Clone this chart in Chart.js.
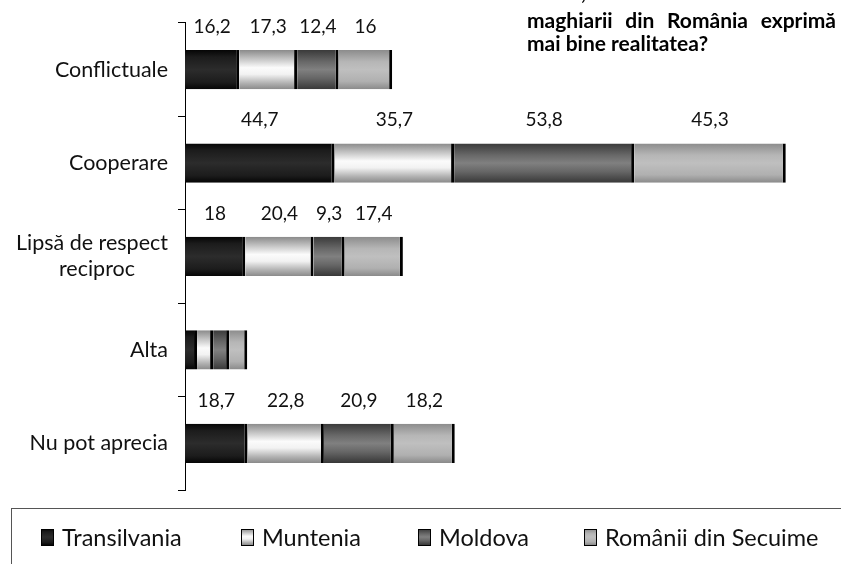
<!DOCTYPE html>
<html>
<head>
<meta charset="utf-8">
<script src="https://cdn.jsdelivr.net/npm/chart.js@4"></script>
<style>
  html, body { margin: 0; padding: 0; background: #fff; }
  #wrap { width: 841px; height: 564px; }
</style>
</head>
<body>
<div id="wrap"><canvas id="chart" width="841" height="564"></canvas></div>
<script>
// Data
const pad = '\u00A0'.repeat(6);
const categories = ['Conflictuale', 'Cooperare', ['Lipsă de respect', 'reciproc' + pad], 'Alta', 'Nu pot aprecia'];
const seriesNames = ['Transilvania', 'Muntenia', 'Moldova', 'Românii din Secuime'];
const transilvania = [16.2, 44.7, 18, 3.6, 18.7];
const muntenia = [17.3, 35.7, 20.4, 4.8, 22.8];
const moldova = [12.4, 53.8, 9.3, 4.8, 20.9];
const secuime = [16, 45.3, 17.4, 5.4, 18.2];
const titleLines = ['maghiarii din România exprimă', 'mai bine realitatea?'];

const FONT = 'Lato, "Open Sans", sans-serif';

// vertical gradient bands for each series (top -> bottom)
const gradientStops = [
    [[0, '#050505'], [0.18, '#1c1c1c'], [0.5, '#2c2c2c'], [0.82, '#1c1c1c'], [1, '#050505']],
    [[0, '#8a8a8a'], [0.2, '#bdbdbd'], [0.45, '#fbfbfb'], [0.62, '#f2f2f2'], [0.85, '#b0b0b0'], [1, '#8a8a8a']],
    [[0, '#3a3a3a'], [0.3, '#686868'], [0.5, '#808080'], [0.72, '#666666'], [1, '#383838']],
    [[0, '#8c8c8c'], [0.3, '#b6b6b6'], [0.5, '#bfbfbf'], [0.8, '#b0b0b0'], [1, '#8a8a8a']]
];
const flatColors = ['#222222', '#e6e6e6', '#6e6e6e', '#b4b4b4'];

function makeGradient(ctx, seriesIdx, top, bottom) {
    const g = ctx.createLinearGradient(0, top, 0, bottom);
    gradientStops[seriesIdx].forEach(s => g.addColorStop(s[0], s[1]));
    return g;
}

function barFill(seriesIdx) {
    return (context) => {
        const chart = context.chart;
        const yScale = chart.scales && chart.scales.y;
        if (context.type !== 'data' || !yScale || !chart.chartArea) return flatColors[seriesIdx];
        const center = yScale.getPixelForValue(context.dataIndex);
        const band = (yScale.bottom - yScale.top) / categories.length;
        const h = band * 0.42;
        if (!isFinite(center)) return flatColors[seriesIdx];
        return makeGradient(chart.ctx, seriesIdx, center - h / 2, center + h / 2);
    };
}

const seriesData = [transilvania, muntenia, moldova, secuime];

// value labels above each segment (not for the tiny "Alta" row)
const valueLabels = {
    id: 'valueLabels',
    afterDatasetsDraw(chart) {
        const ctx = chart.ctx;
        ctx.save();
        ctx.font = '19px ' + FONT;
        ctx.fillStyle = '#111';
        ctx.textAlign = 'center';
        ctx.textBaseline = 'alphabetic';
        chart.data.datasets.forEach((ds, di) => {
            const meta = chart.getDatasetMeta(di);
            meta.data.forEach((bar, i) => {
                const v = ds.data[i];
                if (v < 6) return;
                const x = (bar.base + bar.x) / 2;
                const y = bar.y - bar.height / 2 - 17;
                ctx.fillText(String(v).replace('.', ','), x, y);
            });
        });
        ctx.restore();
    }
};

// title (top right, partly cut off) and legend box
const decorations = {
    id: 'decorations',
    afterDraw(chart) {
        const ctx = chart.ctx;
        ctx.save();
        ctx.fillStyle = '#000';
        ctx.font = 'bold 21px ' + FONT;
        ctx.textBaseline = 'alphabetic';
        ctx.textAlign = 'left';
        // remains of the line above
        ctx.fillText(',', 581, 0);
        // first line justified between 527 and 836
        const words = titleLines[0].split(' ');
        const widths = words.map(w => ctx.measureText(w).width);
        const total = widths.reduce((a, b) => a + b, 0);
        const gap = (836 - 527 - total) / (words.length - 1);
        let x = 527;
        words.forEach((w, i) => { ctx.fillText(w, x, 28); x += widths[i] + gap; });
        ctx.fillText(titleLines[1], 527, 51);

        // legend frame
        ctx.strokeStyle = '#555';
        ctx.lineWidth = 1;
        ctx.strokeRect(11.5, 508.5, 860, 100);

        // legend entries
        const markerX = [41, 241, 418, 584];
        ctx.font = '23.5px ' + FONT;
        ctx.textBaseline = 'middle';
        seriesNames.forEach((name, i) => {
            const mx = markerX[i], my = 529;
            ctx.fillStyle = makeGradient(ctx, i, my, my + 16);
            ctx.fillRect(mx, my, 12, 16);
            ctx.strokeStyle = '#000';
            ctx.lineWidth = 1;
            ctx.strokeRect(mx + 0.5, my + 0.5, 12, 16);
            ctx.fillStyle = '#111';
            ctx.fillText(name, mx + 21, 538);
        });
        ctx.restore();
    }
};

const datasets = seriesData.map((arr, i) => ({
    label: seriesNames[i],
    data: arr,
    backgroundColor: barFill(i),
    borderColor: '#000',
    borderWidth: { left: 0, top: 0, bottom: 0, right: 3 },
    borderSkipped: false,
    categoryPercentage: 1,
    barPercentage: 0.42
}));

new Chart(document.getElementById('chart'), {
    type: 'bar',
    data: { labels: categories, datasets: datasets },
    options: {
        indexAxis: 'y',
        responsive: false,
        animation: false,
        layout: { padding: { top: 20, bottom: 74, left: 0, right: 0 } },
        plugins: {
            legend: { display: false },
            tooltip: { enabled: false },
            title: { display: false }
        },
        scales: {
            x: {
                stacked: true,
                display: false,
                min: 0,
                max: 196
            },
            y: {
                stacked: true,
                afterFit: (scale) => { scale.width = 185; },
                border: { display: true, color: '#000', width: 1 },
                grid: { display: true, drawOnChartArea: false, color: '#000', tickLength: 7, offset: true },
                ticks: { color: '#111', font: { family: FONT, size: 21.5 }, padding: 10, lineHeight: 1.25 }
            }
        }
    },
    plugins: [valueLabels, decorations]
});
</script>
</body>
</html>
